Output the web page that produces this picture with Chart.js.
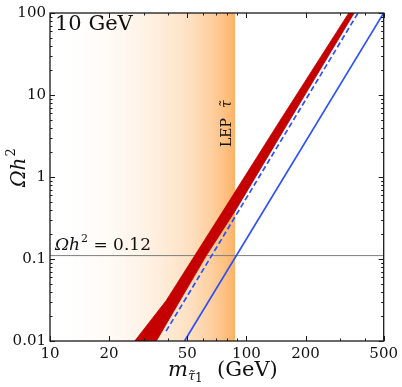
<!DOCTYPE html>
<html><head><meta charset="utf-8">
<script src="https://cdn.jsdelivr.net/npm/chart.js@4/dist/chart.umd.min.js"></script>
<style>html,body{margin:0;padding:0;background:#fff;}#wrap{width:402px;height:387px;}</style>
</head><body><div id="wrap"><canvas id="c" width="402" height="387"></canvas></div>
<script>
// ---- data ----
const xTickValues = [10, 20, 50, 100, 200, 500];
const xTickLabels = ['10', '20', '50', '100', '200', '500'];
const xMinorTicks = [30, 40, 60, 70, 80, 90, 300, 400];
const yTickValues = [0.01, 0.1, 1, 10, 100];
const yTickLabels = ['0.01', '0.1', '1', '10', '100'];
const yMinorFactors = [2, 3, 4, 5, 6, 7, 8, 9];

const lepMass = [10, 87.8];          // LEP stau bound region (shaded)
const lepOmega = [100, 100];
const relicMass = [10, 500];         // Omega h^2 = 0.12 reference line
const relicOmega = [0.11, 0.11];
const bandUpperMass = [27, 39, 54.4, 74.3, 147, 332];
const bandUpperOmega = [0.01, 0.031, 0.109, 0.354, 4.72, 100];
const bandLowerMass = [354, 146.6, 88.5, 62.5, 34.8];
const bandLowerOmega = [100, 3.0, 0.4, 0.11, 0.01];
const dashedMass = [39, 370];
const dashedOmega = [0.0132, 100];
const solidMass = [48.4, 500];
const solidOmega = [0.01, 100];

const pts = (xs, ys) => xs.map((x, i) => ({x, y: ys[i]}));
const SERIF = '"DejaVu Serif", serif';

function lepGradient(ctx) {
  const chart = ctx.chart;
  const area = chart.chartArea;
  if (!area) return 'rgba(253,178,95,0.5)';
  const x0 = chart.scales.x.getPixelForValue(lepMass[0]);
  const x1 = chart.scales.x.getPixelForValue(lepMass[1]);
  const g = chart.ctx.createLinearGradient(x0, 0, x1, 0);
  const stops = [[0,0],[0.1,0.0],[0.32,0.05],[0.5,0.14],[0.64,0.25],[0.75,0.36],[0.85,0.52],[0.93,0.7],[1,0.9]];
  stops.forEach(([p,a]) => g.addColorStop(p, 'rgba(253,170,85,' + a + ')'));
  return g;
}

const framePlugin = {
  id: 'frame',
  afterDraw(chart) {
    const {ctx, chartArea: a, scales} = chart;
    const xs = scales.x, ys = scales.y;
    ctx.save();
    ctx.strokeStyle = '#1a1a1a';
    ctx.lineWidth = 1;
    ctx.beginPath();
    const tick = (x1, y1, x2, y2) => { ctx.moveTo(x1, y1); ctx.lineTo(x2, y2); };
    xTickValues.forEach(v => { const p = Math.round(xs.getPixelForValue(v)) + 0.5; tick(p, a.bottom, p, a.bottom - 5); tick(p, a.top, p, a.top + 5); });
    xMinorTicks.forEach(v => { const p = Math.round(xs.getPixelForValue(v)) + 0.5; tick(p, a.bottom, p, a.bottom - 2.5); tick(p, a.top, p, a.top + 2.5); });
    yTickValues.forEach(v => { const p = Math.round(ys.getPixelForValue(v)) + 0.5; tick(a.left, p, a.left + 5, p); tick(a.right, p, a.right - 5, p); });
    yTickValues.slice(0, -1).forEach(d => yMinorFactors.forEach(f => {
      const p = Math.round(ys.getPixelForValue(d * f)) + 0.5; tick(a.left, p, a.left + 2.5, p); tick(a.right, p, a.right - 2.5, p);
    }));
    ctx.stroke();
    ctx.lineWidth = 1.3;
    ctx.strokeRect(a.left, a.top, a.right - a.left, a.bottom - a.top);

    ctx.fillStyle = '#111';
    ctx.textBaseline = 'alphabetic';
    // panel label
    ctx.font = '21px ' + SERIF;
    ctx.textAlign = 'left';
    ctx.fillText('10 GeV', 55, 30);
    // relic line label
    let x = 55, y = 250;
    ctx.font = 'italic 17px ' + SERIF;
    ctx.fillText('Ωh', x, y); x += ctx.measureText('Ωh').width + 1;
    ctx.font = '11px ' + SERIF;
    ctx.fillText('2', x, y - 8); x += ctx.measureText('2').width;
    ctx.font = '17px ' + SERIF;
    ctx.fillText(' = 0.12', x, y);
    // LEP label (rotated)
    ctx.save();
    ctx.translate(231, 147);
    ctx.rotate(-Math.PI / 2);
    ctx.font = '14px ' + SERIF;
    ctx.fillText('LEP', 0, 0);
    ctx.font = 'italic 14px ' + SERIF;
    ctx.fillText('τ̃', ctx.measureText('LEP').width + 10, 0);
    ctx.restore();
    // y-axis title
    ctx.save();
    ctx.translate(25, 187);
    ctx.rotate(-Math.PI / 2);
    let yx = 0;
    ctx.font = 'italic 20px ' + SERIF;
    ctx.fillText('Ωh', yx, 0); yx += ctx.measureText('Ωh').width + 1;
    ctx.font = '13px ' + SERIF;
    ctx.fillText('2', yx, -10);
    ctx.restore();
    // x-axis title
    let tx = 168, ty = 376;
    ctx.font = 'italic 21px ' + SERIF;
    ctx.fillText('m', tx, ty); tx += ctx.measureText('m').width;
    ctx.font = 'italic 13px ' + SERIF;
    ctx.fillText('τ̃', tx, ty + 4); tx += ctx.measureText('τ̃').width;
    ctx.font = '12px ' + SERIF;
    ctx.fillText('1', tx, ty + 6);
    ctx.font = '21px ' + SERIF;
    ctx.fillText('(GeV)', 217, ty);
    ctx.restore();
  }
};

new Chart(document.getElementById('c'), {
  type: 'line',
  data: {
    datasets: [
      { label: 'solid', data: pts(solidMass, solidOmega), borderColor: 'rgb(45,80,250)', borderWidth: 1.7, pointRadius: 0, fill: false, order: 0 },
      { label: 'dashed', data: pts(dashedMass, dashedOmega), borderColor: 'rgb(45,80,250)', borderWidth: 1.7, borderDash: [5.5, 3], pointRadius: 0, fill: false, order: 1 },
      { label: 'band', data: pts(bandUpperMass, bandUpperOmega).concat(pts(bandLowerMass, bandLowerOmega)), borderColor: 'rgb(196,0,0)', backgroundColor: 'rgb(196,0,0)', borderWidth: 0.8, pointRadius: 0, fill: 'shape', order: 2 },
      { label: 'relic', data: pts(relicMass, relicOmega), borderColor: 'rgb(125,125,125)', borderWidth: 1, pointRadius: 0, fill: false, order: 3 },
      { label: 'LEP', data: pts(lepMass, lepOmega), borderColor: 'rgba(0,0,0,0)', borderWidth: 0, backgroundColor: lepGradient, pointRadius: 0, fill: 'start', order: 4 }
    ]
  },
  options: {
    responsive: false,
    animation: false,
    events: [],
    layout: { padding: { top: 6, right: 17, left: 0, bottom: 0 } },
    plugins: { legend: { display: false }, tooltip: { enabled: false } },
    scales: {
      x: {
        type: 'logarithmic', min: 10, max: 500,
        grid: { display: false, drawTicks: false }, border: { display: false },
        afterBuildTicks: s => { s.ticks = xTickValues.map(v => ({value: v})); },
        afterFit: s => { s.height = 46; },
        ticks: { autoSkip: false, maxRotation: 0, padding: 4, color: '#111', font: { family: SERIF, size: 15 },
                 callback: (v, i) => xTickLabels[i] }
      },
      y: {
        type: 'logarithmic', min: 0.01, max: 100,
        grid: { display: false, drawTicks: false }, border: { display: false },
        afterBuildTicks: s => { s.ticks = yTickValues.map(v => ({value: v})); },
        afterFit: s => { s.width = 50; },
        ticks: { autoSkip: false, padding: 4, color: '#111', font: { family: SERIF, size: 15 },
                 callback: (v, i) => yTickLabels[i] }
      }
    }
  },
  plugins: [framePlugin]
});
</script></body></html>
